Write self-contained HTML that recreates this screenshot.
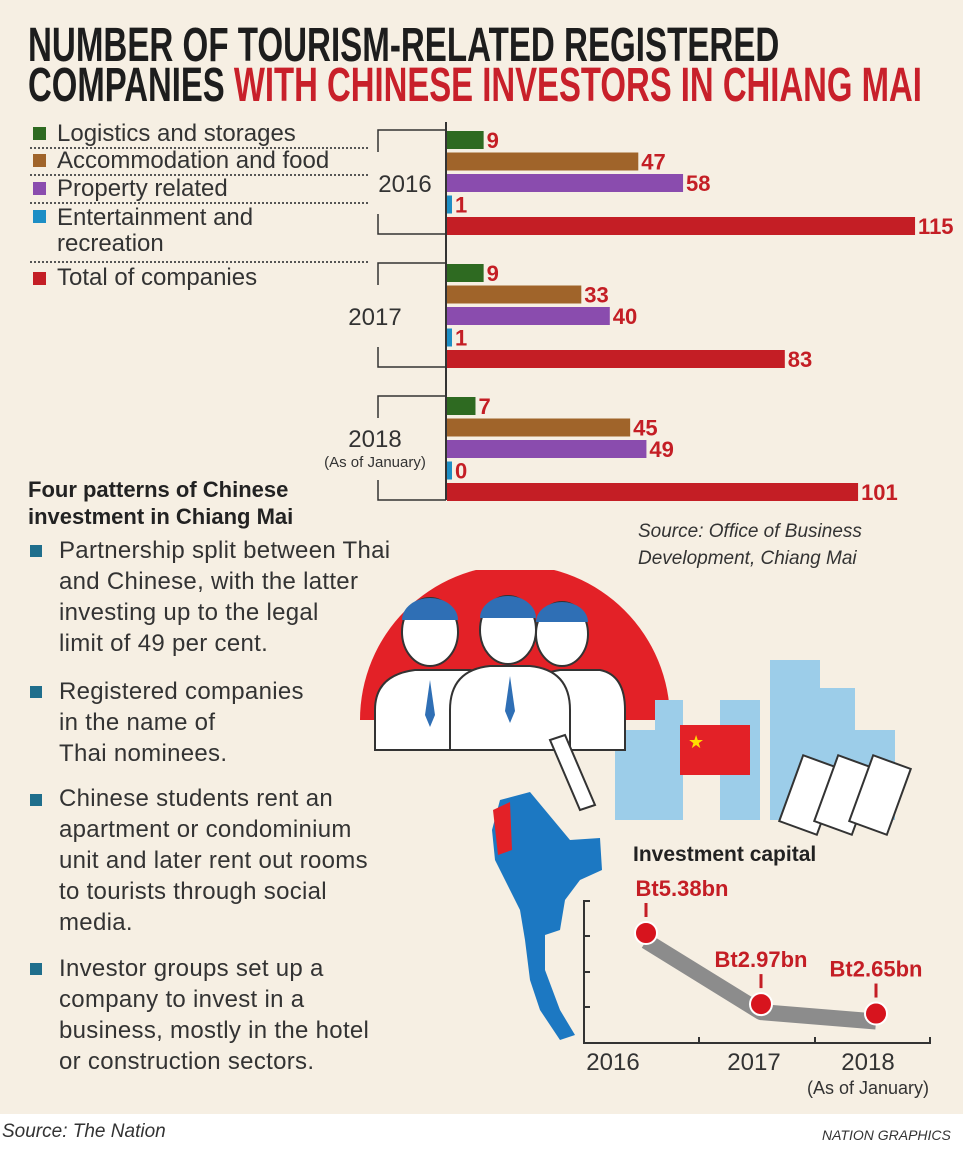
<!DOCTYPE html>
<html><head><meta charset="utf-8"><style>
body{margin:0;width:963px;height:1152px;overflow:hidden;background:#fff;font-family:"Liberation Sans",sans-serif}
#bg{position:absolute;left:0;top:0;width:963px;height:1114px;background:#f6efe3}
.t{position:absolute;white-space:nowrap}
.title{font-family:"Liberation Sans Narrow","Liberation Sans",sans-serif;font-weight:bold;font-size:48px;line-height:40px;color:#1d1d1d}
.leg{font-size:24px;color:#333;line-height:26px}
.sq{position:absolute;width:13px;height:13px}
.b{position:absolute;left:30px;width:12px;height:12px;background:#1f6e8c}
.p{position:absolute;left:59px;font-size:24px;line-height:31px;color:#333;letter-spacing:0.3px}
</style></head><body>
<div id="bg"></div>
<div class="t title" style="left:28px;top:26px"><span style="display:inline-block;transform:scaleX(0.69);transform-origin:0 0">NUMBER OF TOURISM-RELATED REGISTERED</span></div>
<div class="t title" style="left:28px;top:66px"><span style="display:inline-block;transform:scaleX(0.685);transform-origin:0 0">COMPANIES <span style="color:#c8202a">WITH CHINESE INVESTORS IN CHIANG MAI</span></span></div>

<div>
<div class="sq" style="left:33px;top:127px;background:#2e6a21"></div><div class="t leg" style="left:57px;top:121px">Logistics and storages</div>
<div class="sq" style="left:33px;top:154px;background:#a0642a"></div><div class="t leg" style="left:57px;top:148px">Accommodation and food</div>
<div class="sq" style="left:33px;top:182px;background:#8a4cae"></div><div class="t leg" style="left:57px;top:176px">Property related</div>
<div class="sq" style="left:33px;top:210px;background:#1d8ec5"></div><div class="t leg" style="left:57px;top:205px">Entertainment and<br>recreation</div>
<div class="sq" style="left:33px;top:272px;background:#c41e25"></div><div class="t leg" style="left:57px;top:265px">Total of companies</div>
<div class="t" style="left:30px;top:147px;width:338px;border-top:2px dotted #555"></div>
<div class="t" style="left:30px;top:174px;width:338px;border-top:2px dotted #555"></div>
<div class="t" style="left:30px;top:202px;width:338px;border-top:2px dotted #555"></div>
<div class="t" style="left:30px;top:261px;width:338px;border-top:2px dotted #555"></div>
</div>

<svg id="bars" style="position:absolute;left:0;top:0" width="963" height="520"></svg>

<div class="t" style="left:28px;top:476px;font-size:22px;font-weight:bold;line-height:27px;color:#222">Four patterns of Chinese<br>investment in Chiang Mai</div>
<div class="t" style="left:638px;top:518px;font-size:19px;font-style:italic;line-height:27px;color:#333">Source: Office of Business<br>Development, Chiang Mai</div>

<svg style="position:absolute;left:0;top:570px" width="963" height="540">
<path d="M360 150 A155 155 0 0 1 670 150 Z" fill="#e32127"/>
<g fill="#9ccde9"><rect x="655" y="130" width="28" height="120"/><rect x="720" y="130" width="40" height="120"/><rect x="770" y="90" width="50" height="160"/><rect x="810" y="118" width="45" height="130"/><rect x="615" y="160" width="50" height="90"/><rect x="855" y="160" width="40" height="90"/></g>
<g fill="#fff" stroke="#333" stroke-width="2">
<path d="M375 180 V140 Q375 105 415 100 H470 Q500 105 500 140 V180 Z"/>
<path d="M525 180 V140 Q525 105 560 100 H600 Q625 105 625 140 V180 Z"/>
<path d="M450 180 V140 Q450 100 490 96 H530 Q570 100 570 140 V180 Z"/>
<ellipse cx="430" cy="62" rx="28" ry="34"/><ellipse cx="562" cy="64" rx="26" ry="32"/><ellipse cx="508" cy="60" rx="28" ry="34"/>
</g>
<g fill="#2f6fb5"><path d="M402 50 a28 22 0 0 1 56 0 z"/><path d="M480 48 a28 22 0 0 1 56 0 z"/><path d="M536 52 a26 20 0 0 1 52 0 z"/>
<path d="M430 110 l5 35 -5 12 -5 -12z"/><path d="M510 106 l5 35 -5 12 -5 -12z"/></g>
<rect x="680" y="155" width="70" height="50" fill="#e32127"/><text x="688" y="178" fill="#ffde00" font-size="18">★</text>
<path d="M550 170 L580 240 L595 235 L565 165 Z" fill="#fff" stroke="#333" stroke-width="2"/>
<g fill="#fff" stroke="#333" stroke-width="2"><rect x="790" y="190" width="40" height="70" transform="rotate(20 810 225)"/><rect x="825" y="190" width="40" height="70" transform="rotate(20 845 225)"/><rect x="860" y="190" width="40" height="70" transform="rotate(20 880 225)"/></g>
<path d="M500 230 L530 222 L545 240 L570 270 L600 268 L602 300 L580 310 L565 330 L560 360 L545 365 L545 400 L560 440 L575 465 L560 470 L540 440 L530 410 L525 370 L520 340 L505 310 L495 290 L492 260 Z" fill="#1c78c2"/>
<path d="M493 240 L510 232 L512 280 L498 285 Z" fill="#e32127"/>
</svg>

<div>
<div class="b" style="top:545px"></div><div class="t p" style="top:535px">Partnership split between Thai<br>and Chinese, with the latter<br>investing up to the legal<br>limit of 49 per cent.</div>
<div class="b" style="top:686px"></div><div class="t p" style="top:676px">Registered companies<br>in the name of<br>Thai nominees.</div>
<div class="b" style="top:794px"></div><div class="t p" style="top:783px">Chinese students rent an<br>apartment or condominium<br>unit and later rent out rooms<br>to tourists through social<br>media.</div>
<div class="b" style="top:963px"></div><div class="t p" style="top:953px">Investor groups set up a<br>company to invest in a<br>business, mostly in the hotel<br>or construction sectors.</div>
</div>

<div class="t" style="left:633px;top:843px;font-size:21px;font-weight:bold;color:#222">Investment capital</div>
<svg id="line" style="position:absolute;left:0;top:0" width="963" height="1114"></svg>

<div class="t" style="left:2px;top:1121px;font-size:19px;font-style:italic;color:#333">Source: The Nation</div>
<div class="t" style="left:822px;top:1127px;font-size:14px;font-style:italic;color:#333">NATION GRAPHICS</div>

<script>
const years=["2016","2017","2018"];
const logistics=[9,9,7];
const accommodation=[47,33,45];
const property=[58,40,49];
const entertainment=[1,1,0];
const total=[115,83,101];
const capYears=["2016","2017","2018"];
const capital=[5.38,2.97,2.65];
const capLabels=["Bt5.38bn","Bt2.97bn","Bt2.65bn"];

const NS="http://www.w3.org/2000/svg";
function mk(p,t,a){const e=document.createElementNS(NS,t);for(const k in a)e.setAttribute(k,a[k]);p.appendChild(e);return e;}
const bs=document.getElementById('bars');
const x0=446,sx=v=>x0+v*4.07;
const groupTop=i=>130+i*133;
const series=[logistics,accommodation,property,entertainment,total];
const cols=["#2e6a21","#a0642a","#8a4cae","#1d8ec5","#c41e25"];
let ax=mk(bs,'line',{x1:x0,y1:122,x2:x0,y2:500,stroke:'#333','stroke-width':2});


const labX=[405,375,375], labY=[62,62,51];
years.forEach((y,i)=>{
  const gt=groupTop(i);
  const br=mk(bs,'path',{d:`M${x0} ${gt} H378 V${gt+22} M378 ${gt+84} V${gt+104} H${x0}`,fill:'none',stroke:'#333','stroke-width':1.5});
  
  
  const lab=mk(bs,'text',{x:labX[i],y:gt+labY[i],'text-anchor':'middle','font-size':24,fill:'#333','font-family':'Liberation Sans'});
  lab.textContent=y;
  
  
  series.forEach((s,j)=>{
    const yy=gt+1+j*21.5;const w=sx(s[i])-x0;
    const r=mk(bs,'rect',{x:x0+1,y:yy,width:Math.max(w,5),height:18,fill:cols[j]});
    
    
    const tx=mk(bs,'text',{x:x0+Math.max(w,5)+4,y:yy+17,'font-size':22,'font-weight':'bold',fill:'#c41e25','font-family':'Liberation Sans Narrow, Liberation Sans'});
    tx.textContent=s[i];
    
    
  });
});
const sub=mk(bs,'text',{x:375,y:467,'text-anchor':'middle','font-size':15,fill:'#333','font-family':'Liberation Sans'});
sub.textContent='(As of January)';



const ls=document.getElementById('line');
const px=i=>646+i*115, py=v=>933+(5.38-v)*29.5;
const axes=mk(ls,'path',{d:'M590 901 H584 V1043 H930 V1037 M584 936 H590 M584 972 H590 M584 1007 H590 M699 1043 V1037 M815 1043 V1037',fill:'none',stroke:'#333','stroke-width':2});


let d='';capital.forEach((v,i)=>{d+=(i?'L':'M')+px(i)+' '+(py(v)+8);});
const band=mk(ls,'path',{d:d,fill:'none',stroke:'#8c8c8c','stroke-width':16,'stroke-linejoin':'round'});


capital.forEach((v,i)=>{
  mk(ls,'line',{x1:px(i),y1:py(v)-30,x2:px(i),y2:py(v)-16,stroke:'#c41e25','stroke-width':3});
  const c=mk(ls,'circle',{cx:px(i),cy:py(v),r:11,fill:'#d7141e',stroke:'#fff','stroke-width':2});
  
  
  const t=mk(ls,'text',{x:px(i)+(i===0?36:0),y:py(v)-37,'text-anchor':'middle','font-size':22,'font-weight':'bold',fill:'#c41e25','font-family':'Liberation Sans'});
  t.textContent=capLabels[i];
  
  
  const yl=mk(ls,'text',{x:px(i)-(i===0?33:i===1?7:8),y:1070,'text-anchor':'middle','font-size':24,fill:'#333','font-family':'Liberation Sans'});
  yl.textContent=capYears[i];
  
  
});
const aj=mk(ls,'text',{x:868,y:1094,'text-anchor':'middle','font-size':18,fill:'#333','font-family':'Liberation Sans'});
aj.textContent='(As of January)';


</script>
</body></html>
